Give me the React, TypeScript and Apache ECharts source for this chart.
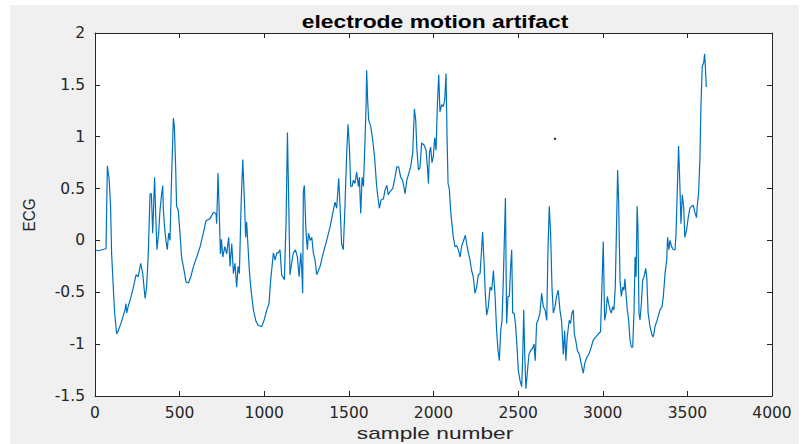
import React, { useEffect, useRef } from "react";
import * as echarts from "echarts";

const sampleX = [
  0, 20, 40, 65, 73, 84, 92, 98, 108, 116, 128, 138, 157, 177, 183, 187, 197, 207, 227, 243, 256, 270, 282, 296, 305, 315, 325, 333, 341, 345, 352, 360, 366, 376, 384, 392, 400, 404, 411, 419, 427, 435, 443, 451, 463, 469, 477, 482, 492, 502, 512, 522, 538, 552, 566, 582, 601, 621, 640, 656, 680, 699, 715, 719, 727, 735, 741, 747, 755, 767, 778, 790, 798, 808, 818, 827, 837, 845, 853, 863, 873, 884, 890, 896, 902, 912, 920, 936, 951, 965, 985, 999, 1015, 1028, 1038, 1054, 1064, 1074, 1083, 1093, 1103, 1119, 1129, 1137, 1145, 1152, 1162, 1172, 1184, 1196, 1206, 1216, 1222, 1227, 1231, 1237, 1247, 1255, 1261, 1271, 1281, 1290, 1300, 1310, 1330, 1349, 1369, 1389, 1408, 1418, 1428, 1440, 1448, 1457, 1467, 1477, 1487, 1495, 1503, 1511, 1519, 1526, 1536, 1546, 1556, 1562, 1570, 1578, 1586, 1594, 1602, 1605, 1611, 1617, 1629, 1641, 1653, 1664, 1674, 1680, 1690, 1704, 1714, 1724, 1733, 1743, 1759, 1773, 1783, 1794, 1806, 1818, 1832, 1842, 1853, 1865, 1877, 1887, 1895, 1901, 1911, 1920, 1930, 1944, 1956, 1964, 1970, 1976, 1983, 1991, 1999, 2007, 2015, 2023, 2031, 2038, 2048, 2058, 2066, 2074, 2080, 2086, 2094, 2101, 2109, 2117, 2127, 2137, 2147, 2157, 2166, 2176, 2188, 2196, 2206, 2216, 2225, 2235, 2245, 2255, 2265, 2275, 2283, 2290, 2298, 2306, 2314, 2324, 2334, 2344, 2354, 2364, 2373, 2381, 2389, 2397, 2405, 2413, 2425, 2432, 2440, 2448, 2456, 2462, 2468, 2476, 2484, 2491, 2501, 2511, 2521, 2527, 2533, 2539, 2546, 2554, 2564, 2574, 2586, 2594, 2601, 2609, 2617, 2629, 2639, 2649, 2659, 2669, 2676, 2684, 2692, 2700, 2708, 2718, 2727, 2737, 2747, 2757, 2767, 2775, 2782, 2790, 2802, 2810, 2818, 2826, 2832, 2840, 2850, 2862, 2873, 2885, 2893, 2905, 2917, 2928, 2944, 2960, 2974, 2987, 2995, 3003, 3011, 3019, 3027, 3035, 3043, 3051, 3058, 3066, 3074, 3082, 3088, 3094, 3102, 3110, 3118, 3125, 3131, 3137, 3145, 3153, 3161, 3169, 3177, 3185, 3191, 3197, 3203, 3208, 3214, 3220, 3228, 3236, 3244, 3254, 3260, 3268, 3279, 3291, 3299, 3309, 3319, 3328, 3338, 3350, 3358, 3368, 3378, 3383, 3391, 3397, 3407, 3417, 3427, 3433, 3441, 3448, 3456, 3462, 3470, 3478, 3485, 3495, 3505, 3515, 3525, 3535, 3544, 3554, 3558, 3566, 3574, 3580, 3588, 3596, 3602, 3606, 3612,
];

const ecgValues = [
  -0.09, -0.1, -0.09, -0.08, 0.72, 0.58, 0.33, -0.12, -0.45, -0.7, -0.9, -0.87, -0.78, -0.67, -0.61, -0.7, -0.63, -0.58, -0.45, -0.33, -0.35, -0.22, -0.32, -0.56, -0.45, -0.12, 0.45, 0.45, 0.07, 0.26, 0.61, 0.19, -0.09, 0.07, 0.29, 0.42, 0.53, 0.29, 0.13, 0.0, -0.09, 0.07, 0.0, 0.52, 1.18, 1.1, 0.68, 0.33, 0.29, 0.07, -0.17, -0.25, -0.4, -0.41, -0.35, -0.25, -0.16, -0.06, 0.07, 0.19, 0.21, 0.27, 0.26, 0.16, 0.65, 0.22, -0.13, 0.01, -0.16, -0.06, -0.13, 0.03, -0.25, -0.03, -0.32, -0.22, -0.45, -0.25, -0.32, 0.33, 0.78, 0.33, 0.03, 0.18, 0.0, -0.29, -0.45, -0.67, -0.78, -0.82, -0.83, -0.77, -0.67, -0.61, -0.38, -0.12, -0.19, -0.12, -0.12, -0.09, -0.33, -0.38, 0.19, 1.04, 0.33, -0.33, -0.22, -0.12, -0.09, -0.16, -0.35, -0.12, -0.29, -0.51, 0.47, 0.53, 0.07, -0.09, 0.07, 0.0, 0.03, -0.12, -0.19, -0.33, -0.25, -0.12, 0.0, 0.13, 0.29, 0.37, 0.31, 0.6, 0.33, -0.03, -0.09, 0.33, 0.84, 1.12, 0.9, 0.52, 0.52, 0.58, 0.55, 0.66, 0.52, 0.61, 0.26, 0.61, 0.52, 0.9, 1.32, 1.64, 1.35, 1.16, 1.1, 0.97, 0.78, 0.52, 0.39, 0.31, 0.39, 0.4, 0.49, 0.53, 0.44, 0.47, 0.5, 0.61, 0.71, 0.71, 0.61, 0.58, 0.45, 0.58, 0.64, 0.71, 0.84, 1.27, 1.16, 0.9, 0.68, 0.7, 0.94, 0.92, 0.87, 0.71, 0.55, 0.84, 0.9, 0.75, 0.81, 0.99, 0.87, 1.31, 1.6, 1.24, 1.31, 1.29, 1.35, 1.61, 1.0, 0.55, 0.49, 0.29, 0.16, 0.03, -0.06, -0.05, -0.09, -0.16, -0.06, -0.01, 0.05, -0.03, -0.12, -0.19, -0.29, -0.35, -0.51, -0.45, -0.33, -0.32, -0.12, 0.08, -0.19, -0.51, -0.72, -0.64, -0.45, -0.48, -0.29, -0.54, -0.87, -1.06, -1.16, -0.87, -0.77, -0.35, 0.41, -0.8, -0.54, -0.54, -0.25, -0.09, -0.7, -0.7, -0.8, -0.96, -1.25, -1.35, -1.41, -1.13, -0.67, -1.1, -1.43, -1.28, -1.1, -1.06, -1.04, -1.0, -1.16, -0.8, -0.77, -0.7, -0.51, -0.64, -0.67, -0.77, -0.12, 0.33, 0.07, -0.45, -0.7, -0.64, -0.54, -0.48, -0.67, -0.78, -1.1, -0.87, -1.16, -0.93, -0.77, -0.8, -0.7, -0.67, -0.9, -0.96, -1.06, -1.1, -1.19, -1.28, -1.19, -1.13, -1.1, -1.05, -0.96, -0.93, -0.9, -0.88, -0.45, -0.01, -0.77, -0.7, -0.54, -0.61, -0.67, -0.7, -0.64, -0.67, -0.45, 0.19, 0.68, 0.36, -0.38, -0.54, -0.45, -0.48, -0.37, -0.51, -0.67, -0.77, -0.96, -1.03, -1.03, -0.67, -0.16, -0.35, 0.33, 0.13, -0.7, -0.77, -0.61, -0.38, -0.35, -0.27, -0.35, -0.7, -0.83, -0.91, -0.93, -0.83, -0.78, -0.73, -0.67, -0.64, -0.54, -0.32, -0.19, 0.03, -0.09, 0.0, -0.06, -0.09, -0.09, 0.07, 0.52, 0.91, 0.52, 0.16, 0.44, 0.33, 0.03, 0.1, 0.22, 0.31, 0.33, 0.34, 0.27, 0.22, 0.33, 0.45, 0.78, 1.29, 1.68, 1.71, 1.8, 1.68, 1.48,
];

const strayDotX = [2718];
const strayDotY = [0.98];

const xTicks = { min: 0, max: 4000, interval: 500 };
const yTicks = { min: -1.5, max: 2, interval: 0.5 };

const titleText = "electrode motion artifact";
const xLabelText = "sample number";
const yLabelText = "ECG";

export default function App() {
  const ref = useRef<HTMLDivElement>(null);
  useEffect(() => {
    if (!ref.current) return;
    const chart = echarts.init(ref.current, null, { renderer: "svg" });
    const font = "'Liberation Sans', Arial, Helvetica, sans-serif";
    const tickFont = "'DejaVu Sans', 'Liberation Sans', sans-serif";
    const axisColor = "#262626";
    const lineData = sampleX.map((x, i) => [x, ecgValues[i]]);
    const dotData = strayDotX.map((x, i) => [x, strayDotY[i]]);
    const commonX = {
      type: "value",
      min: xTicks.min,
      max: xTicks.max,
      interval: xTicks.interval,
      z: 5,
      splitLine: { show: false },
      axisLine: { show: true, onZero: false, lineStyle: { color: axisColor, width: 1 } },
      axisTick: { show: true, inside: true, length: 5, lineStyle: { color: axisColor } },
    };
    const commonY = {
      type: "value",
      min: yTicks.min,
      max: yTicks.max,
      interval: yTicks.interval,
      z: 5,
      splitLine: { show: false },
      axisLine: { show: true, onZero: false, lineStyle: { color: axisColor, width: 1 } },
      axisTick: { show: true, inside: true, length: 5, lineStyle: { color: axisColor } },
    };
    chart.setOption({
      animation: false,
      backgroundColor: "#ffffff",
      grid: { left: 95, right: 37, top: 33, bottom: 48, show: true, backgroundColor: "#ffffff", borderWidth: 0 },
      xAxis: [
        {
          ...commonX,
          position: "bottom",
          axisLabel: {
            show: true,
            margin: 9,
            color: axisColor,
            fontSize: 15.5,
            fontFamily: tickFont,
            formatter: (v: number) => String(v),
          },
        },
        {
          ...commonX,
          position: "top",
          axisLabel: { show: false },
        },
      ],
      yAxis: [
        {
          ...commonY,
          position: "left",
          axisLabel: { show: true, margin: 10, color: axisColor, fontSize: 15.5, fontFamily: tickFont },
        },
        {
          ...commonY,
          position: "right",
          axisLabel: { show: false },
        },
      ],
      graphic: [
        {
          type: "rect",
          z: -10,
          silent: true,
          shape: { x: 10, y: 5, width: 789, height: 439 },
          style: { fill: "#f0f0f0" },
        },
        {
          type: "text",
          x: 435,
          y: 21,
          scaleX: 1.27,
          style: {
            text: titleText,
            fill: "#000",
            fontSize: 18,
            fontWeight: "bold",
            fontFamily: font,
            align: "center",
            verticalAlign: "middle",
            textAlign: "center",
            textVerticalAlign: "middle",
          },
        },
        {
          type: "text",
          x: 435,
          y: 433,
          scaleX: 1.42,
          style: {
            text: xLabelText,
            fill: axisColor,
            fontSize: 16,
            fontFamily: font,
            align: "center",
            verticalAlign: "middle",
            textAlign: "center",
            textVerticalAlign: "middle",
          },
        },
        {
          type: "text",
          x: 28.5,
          y: 215,
          rotation: Math.PI / 2,
          scaleX: 0.9,
          style: {
            text: yLabelText,
            fill: axisColor,
            fontSize: 17,
            fontFamily: font,
            align: "center",
            verticalAlign: "middle",
            textAlign: "center",
            textVerticalAlign: "middle",
          },
        },
      ],
      series: [
        {
          type: "line",
          data: lineData,
          showSymbol: false,
          symbol: "none",
          lineStyle: { color: "#0072BD", width: 1.2 },
          xAxisIndex: 0,
          yAxisIndex: 0,
        },
        {
          type: "scatter",
          data: dotData,
          symbolSize: 2.5,
          itemStyle: { color: "#000" },
          xAxisIndex: 0,
          yAxisIndex: 0,
        },
      ],
    });
    return () => chart.dispose();
  }, []);
  return (
    <div
      ref={ref}
      style={{ position: "fixed", left: 0, top: 0, width: 809, height: 444 }}
    />
  );
}
